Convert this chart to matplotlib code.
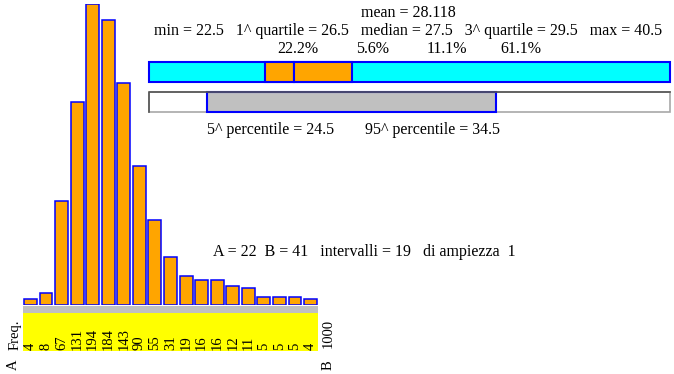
import matplotlib
matplotlib.use("Agg")
import matplotlib.pyplot as plt
from matplotlib.patches import Rectangle

plt.rcParams['font.family'] = ['Liberation Serif', 'DejaVu Serif']

# histogram data
freqs = [4, 8, 67, 131, 194, 184, 143, 90, 55, 31, 19, 16, 16, 12, 11, 5, 5, 5, 4]
total = 1000
A, B = 22, 41
n_int = 19
width_int = 1

# summary stats
v_min, q1, median, q3, v_max = 22.5, 26.5, 27.5, 29.5, 40.5
mean = 28.118
p5, p95 = 24.5, 34.5

W, H = 674, 374
FS = 11.5      # ~16 px
FS_SMALL = 10.5

fig = plt.figure(figsize=(W / 100, H / 100), dpi=100)


def px_axes(x0, y0, x1, y1):
    # axes from pixel box (top-left origin)
    return fig.add_axes([x0 / W, 1 - y1 / H, (x1 - x0) / W, (y1 - y0) / H])


def ftext(x, y, s, **kw):
    fig.text(x / W, 1 - y / H, s, fontsize=kw.pop('fontsize', FS), **kw)


# --- histogram ---
ax = px_axes(22.7, 4.3, 318.3, 305)
ax.bar(range(len(freqs)), freqs, width=0.83, color='#ffa500',
       edgecolor='#0000ff', linewidth=1.1)
ax.set_xlim(-0.5, len(freqs) - 0.5)
ax.set_ylim(0, max(freqs))
ax.axis('off')

# --- strip with counts ---
ax_s = px_axes(22.7, 306, 318.3, 351)
ax_s.set_xlim(-0.5, len(freqs) - 0.5)
ax_s.set_ylim(351, 306)
ax_s.axhspan(306, 313, color='#c0c0c0', lw=0)
ax_s.axhspan(313, 351, color='#ffff00', lw=0)
for i, f in enumerate(freqs):
    ax_s.text(i, 350, str(f), rotation=90, ha='center', va='bottom',
              fontsize=FS_SMALL)
ax_s.axis('off')

ftext(15, 350, 'Freq.', rotation=90, ha='center', va='bottom', fontsize=FS_SMALL)
ftext(13, 365, 'A', rotation=90, ha='center', va='center', fontsize=FS_SMALL)
ftext(328, 365, 'B', rotation=90, ha='center', va='center', fontsize=FS_SMALL)
ftext(328, 348, str(total), rotation=90, ha='center', va='bottom', fontsize=FS_SMALL)

# --- box summary ---
axb = px_axes(149, 61, 670, 113)
axb.set_xlim(v_min, v_max)
axb.set_ylim(113, 61)
axb.axis('off')

r1_top, r1_h = 61.7, 20.6
axb.add_patch(Rectangle((v_min, r1_top), v_max - v_min, r1_h, facecolor='#00ffff',
                        edgecolor='#0000ff', lw=1.5, clip_on=False))
axb.add_patch(Rectangle((q1, r1_top), median - q1, r1_h, facecolor='#ffa500',
                        edgecolor='#0000ff', lw=1.5, clip_on=False))
axb.add_patch(Rectangle((median, r1_top), q3 - median, r1_h, facecolor='#ffa500',
                        edgecolor='#0000ff', lw=1.5, clip_on=False))

r2_top, r2_h = 92, 20
axb.add_patch(Rectangle((v_min, r2_top), v_max - v_min, r2_h, facecolor='white',
                        edgecolor='#a8a8a8', lw=1.2, clip_on=False))
axb.plot([v_min, v_min, v_max], [r2_top + r2_h, r2_top, r2_top], color='#555555',
         lw=1.2, clip_on=False)
axb.add_patch(Rectangle((p5, r2_top), p95 - p5, r2_h, facecolor='#c0c0c0',
                        edgecolor='#0000ff', lw=1.5, clip_on=False))

mid = (v_min + v_max) / 2
axb.text(mid - 0.05, 13, f'mean = {mean}', ha='center', va='center', fontsize=FS)
axb.text(mid - 0.05, 31,
         f'min = {v_min}   1^ quartile = {q1}   median = {median}   '
         f'3^ quartile = {q3}   max = {v_max}',
         ha='center', va='center', fontsize=FS)

rng = v_max - v_min
pcts = [(q1 - v_min) / rng, (median - q1) / rng, (q3 - median) / rng, (v_max - q3) / rng]
step = 74.5 / (521 / rng)
for i, p in enumerate(pcts):
    axb.text(mid + (i - 1.5) * step, 49, f'{p * 100:.1f}%', ha='center',
             va='center', fontsize=FS)

axb.text(p5, 130, f'5^ percentile = {p5}', ha='left', va='center', fontsize=FS)
axb.text(p95 + 0.12, 130, f'95^ percentile = {p95}', ha='right', va='center',
         fontsize=FS)

ftext(212.7, 252, f'A = {A}  B = {B}   intervalli = {n_int}   di ampiezza  {width_int}',
      ha='left', va='center')

fig.savefig('out.png', dpi=100)
